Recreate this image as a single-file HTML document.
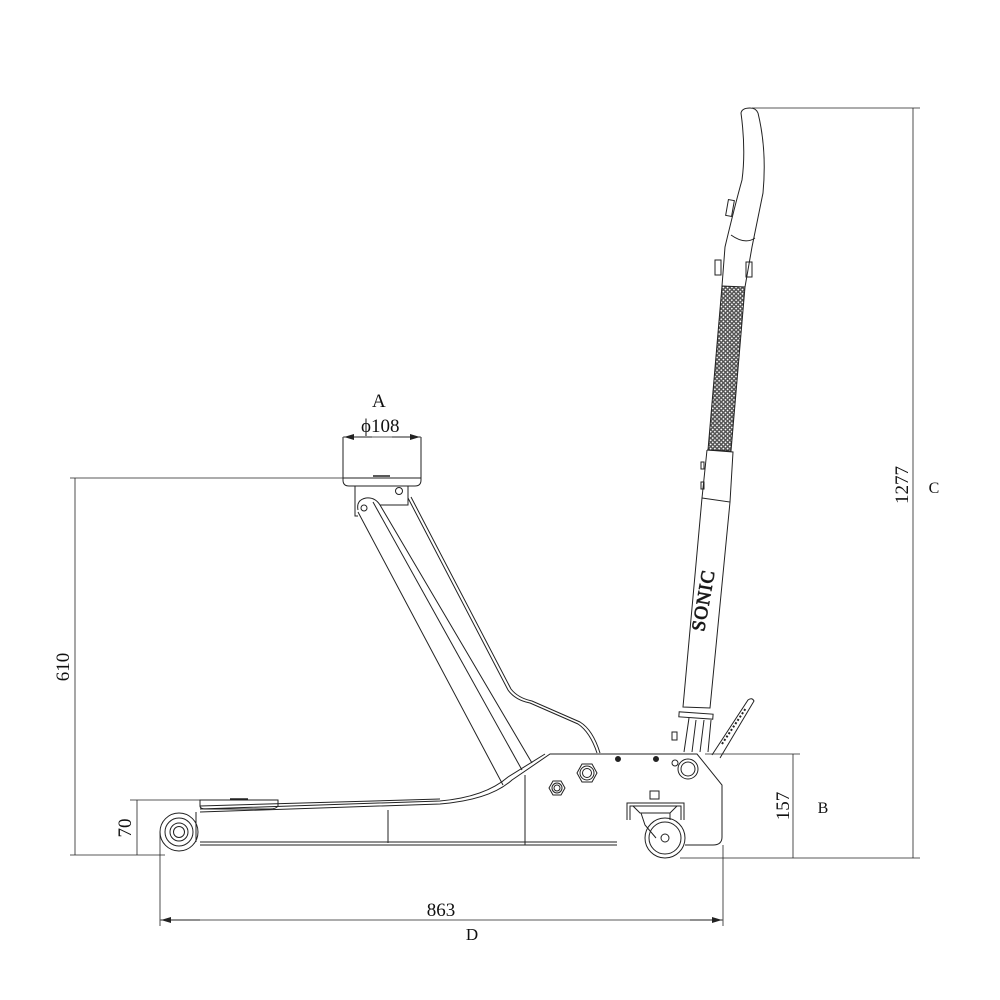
<!DOCTYPE html>
<html><head><meta charset="utf-8"><style>
html,body{margin:0;padding:0;background:#fff}
svg{display:block}
text{font-family:"Liberation Sans Narrow","Liberation Serif",serif;fill:#111}
</style></head><body>
<svg width="1000" height="1000" viewBox="0 0 1000 1000" xmlns="http://www.w3.org/2000/svg">
<defs>
<pattern id="kn" width="3" height="3" patternUnits="userSpaceOnUse" patternTransform="rotate(45)">
<rect width="3" height="3" fill="#555"/><rect width="1.5" height="1.5" fill="#fff"/>
</pattern>
<marker id="ar" markerWidth="10" markerHeight="6" refX="10" refY="3" orient="auto" markerUnits="userSpaceOnUse"><path d="M0,0 L10,3 L0,6 z" fill="#222"/></marker>
</defs>
<g fill="none" stroke="#222" stroke-width="1">
<line x1="70" y1="478" x2="343" y2="478" stroke-width="0.8"/>
<line x1="75" y1="478" x2="75" y2="855" stroke-width="0.8"/>
<line x1="70" y1="855" x2="165" y2="855" stroke-width="0.8"/>
<line x1="130" y1="800" x2="200" y2="800" stroke-width="0.8"/>
<line x1="137" y1="800" x2="137" y2="855" stroke-width="0.8"/>
<line x1="343" y1="437" x2="421" y2="437" stroke-width="0.8"/>
<line x1="372" y1="437" x2="344" y2="437" marker-end="url(#ar)"/>
<line x1="392" y1="437" x2="420" y2="437" marker-end="url(#ar)"/>
<line x1="752" y1="108" x2="920" y2="108" stroke-width="0.8"/>
<line x1="913" y1="108" x2="913" y2="858" stroke-width="0.8"/>
<line x1="705" y1="754" x2="800" y2="754" stroke-width="0.8"/>
<line x1="680" y1="858" x2="920" y2="858" stroke-width="0.8"/>
<line x1="793" y1="754" x2="793" y2="858" stroke-width="0.8"/>
<line x1="160" y1="832" x2="160" y2="926" stroke-width="0.8"/>
<line x1="723" y1="845" x2="723" y2="926" stroke-width="0.8"/>
<line x1="160" y1="920" x2="723" y2="920" stroke-width="0.8"/>
<line x1="200" y1="920" x2="161" y2="920" marker-end="url(#ar)"/>
<line x1="690" y1="920" x2="722" y2="920" marker-end="url(#ar)"/>

<path d="M343,437 L343,480 Q343,486 349,486 L415,486 Q421,486 421,480 L421,437"/>
<line x1="343" y1="478" x2="421" y2="478"/>
<line x1="373" y1="476" x2="390" y2="476" stroke-width="1.5"/>
<path d="M355,486 L355,516 L358,516 M408,486 L408,505 L380,505"/>
<circle cx="399" cy="491" r="3.5"/>
<path d="M358,510 Q356,500 366,498 Q375,497 380,505 L532,763"/>
<circle cx="364" cy="508" r="3"/>
<line x1="358" y1="512" x2="503" y2="785"/>
<line x1="373" y1="502" x2="522" y2="770"/>
<path d="M408,498 L508,690 Q515,700 530,703 L578,724 Q590,732 597,753"/>
<path d="M411,497 L511,689 Q518,698 532,701 L580,722 Q593,730 600,753"/>
<path d="M200,812 L440,804 Q490,800 512,780 L550,754 L697,754 L722,785 L722,837 Q722,845 713,845 L685,845"/>
<path d="M200,809 L440,801 Q485,797 508,777 L545,754"/>
<path d="M200,806 L440,799"/>
<line x1="525" y1="775" x2="525" y2="845"/>
<path d="M200,845 L617,845 M200,842 L617,842"/>
<line x1="388" y1="810" x2="388" y2="843"/>
<path d="M200,800 L278,800 L278,806 Q276,809 270,809 L206,809 Q200,809 200,806 Z"/>
<line x1="230" y1="799" x2="248" y2="799" stroke-width="1.5"/>
<path d="M196,812 L196,842"/>
<circle cx="179" cy="832" r="19"/>
<circle cx="179" cy="832" r="14"/>
<circle cx="179" cy="832" r="9"/>
<circle cx="179" cy="832" r="5.5"/>
<polygon points="549,788 553,781 561,781 565,788 561,795 553,795"/>
<circle cx="557" cy="788" r="5"/><circle cx="557" cy="788" r="3"/>
<polygon points="577,773 582,764 592,764 597,773 592,782 582,782"/>
<circle cx="587" cy="773" r="7"/><circle cx="587" cy="773" r="4.5"/>
<circle cx="618" cy="759" r="2.5" fill="#222"/>
<circle cx="656" cy="759" r="2.5" fill="#222"/>
<circle cx="675" cy="763" r="3"/>
<circle cx="688" cy="769" r="10"/><circle cx="688" cy="769" r="7"/>
<path d="M627,820 L627,803 L684,803 L684,820 M630,820 L630,806 L681,806 L681,820"/>
<rect x="650" y="791" width="9" height="8"/>
<path d="M633,806 L640,813 L670,813 L677,806"/>
<path d="M641,813 L645,825 L656,838 M670,813 L670,820"/>
<circle cx="665" cy="838" r="20"/>
<circle cx="665" cy="838" r="16"/>
<circle cx="665" cy="838" r="4"/>
<path d="M684,752 L689,718 M692,752 L696,720 M700,752 L704,720 M708,752 L711,720"/>
<rect x="679" y="713" width="34" height="5" transform="rotate(4 696 715)"/>
<rect x="672" y="732" width="5" height="8"/>
<path d="M712,755 L748,700 Q752,697 754,701 L720,758"/>
<path d="M722,744 L746,708" stroke-dasharray="2,2" stroke-width="2"/>
<path d="M702,498 L730,502 L710,708 L683,707 Z"/>
<path d="M707,450 L733,452 L730,502 M702,498 L707,450"/>
<rect x="701" y="462" width="3" height="7"/><rect x="701" y="482" width="3" height="7"/>
<path d="M722,286 L745,287 L731,451 L708,450 Z" fill="url(#kn)"/>
<path d="M722,286 L725,247 Q735,205 742,180 Q746,150 741,113 Q742,108 750,108 Q756,108 758,113 Q767,150 763,193 L752,247 L745,287"/>
<path d="M731,235 Q745,245 755,238"/>
<rect x="727" y="200" width="6" height="16" transform="rotate(10 730 208)"/>
<rect x="715" y="260" width="6" height="15"/><rect x="746" y="262" width="6" height="15"/>
</g>
<text x="704" y="632" font-family="Liberation Sans" font-size="19" letter-spacing="1" fill="none" stroke="#222" stroke-width="0.8" transform="rotate(-80 704 632)">SONIC</text>
<g font-size="19">
<text x="372" y="407">A</text>
<text x="361" y="432">ϕ108</text>
<text x="69" y="667" transform="rotate(-90 69 667)" text-anchor="middle">610</text>
<text x="131" y="828" transform="rotate(-90 131 828)" text-anchor="middle">70</text>
<text x="789" y="806" transform="rotate(-90 789 806)" text-anchor="middle">157</text>
<text x="908" y="485" transform="rotate(-90 908 485)" text-anchor="middle">1277</text>
<text x="441" y="916" text-anchor="middle">863</text>
<text x="472" y="940" text-anchor="middle" font-size="17">D</text>
<text x="823" y="813" text-anchor="middle" font-size="16">B</text>
<text x="934" y="493" text-anchor="middle" font-size="16">C</text>
</g>
</svg>
</body></html>
